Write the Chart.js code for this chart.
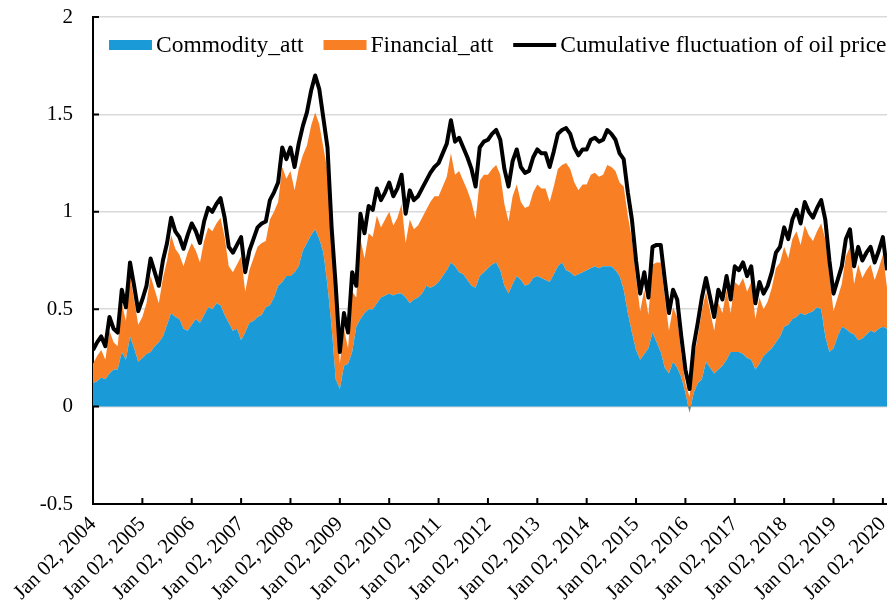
<!DOCTYPE html>
<html>
<head>
<meta charset="utf-8">
<script src="https://cdn.jsdelivr.net/npm/chart.js@4"></script>
<style>
  html, body { margin: 0; padding: 0; background: #fff; }
  #wrap { width: 887px; height: 603px; }
</style>
</head>
<body>
<div id="wrap"><canvas id="myChart"></canvas></div>
<script>
// tick years on the x axis
const yearTicks = [2004, 2005, 2006, 2007, 2008, 2009, 2010, 2011, 2012,
  2013, 2014, 2015, 2016, 2017, 2018, 2019, 2020];
const yTicks = [-0.5, 0, 0.5, 1, 1.5, 2];

// monthly readings, Jan 2004 .. Feb 2020
const commodity = [
  .12, .13, .15, .14, .17, .19, .19, .28, .24, .36, .30, .23,
  .25, .27, .28, .31, .33, .36, .42, .48, .46, .45, .40, .39,
  .42, .45, .43, .47, .51, .50, .53, .52, .47, .43, .39, .40,
  .34, .38, .43, .44, .46, .47, .51, .52, .56, .62, .64, .67,
  .67, .69, .72, .80, .84, .88, .91, .86, .79, .62, .41, .14,
  .09, .21, .22, .28, .41, .45, .48, .50, .50, .53, .56, .57,
  .58, .57, .58, .58, .56, .53, .55, .56, .58, .62, .61, .62,
  .64, .67, .70, .74, .72, .69, .68, .65, .62, .61, .67, .69,
  .71, .73, .74, .70, .62, .58, .63, .67, .65, .62, .63, .66,
  .67, .66, .65, .64, .68, .72, .74, .70, .69, .67, .68, .69,
  .70, .71, .72, .71, .72, .72, .72, .70, .67, .60, .48, .38,
  .29, .24, .27, .30, .38, .33, .28, .20, .17, .23, .20, .15,
  .07, -.03, .07, .12, .14, .23, .20, .17, .19, .21, .24, .28,
  .28, .28, .27, .25, .24, .19, .22, .26, .28, .30, .33, .36,
  .41, .42, .45, .46, .48, .47, .48, .49, .51, .50, .36, .28,
  .30, .36, .41, .40, .38, .37, .34, .35, .37, .39, .38, .40,
  .41, .40
];
const financial = [
  .10, .13, .14, .10, .22, .14, .12, .25, .20, .31, .25, .19,
  .21, .26, .39, .29, .20, .30, .33, .40, .35, .33, .32, .40,
  .42, .35, .31, .38, .41, .40, .41, .45, .40, .29, .30, .33,
  .43, .21, .27, .32, .36, .37, .34, .44, .44, .43, .59, .50,
  .54, .42, .50, .49, .50, .56, .60, .59, .54, .59, .41, .40,
  .13, .19, .08, .31, .15, .41, .28, .39, .37, .45, .36, .39,
  .42, .36, .39, .46, .28, .43, .36, .37, .39, .39, .44, .46,
  .44, .46, .48, .56, .47, .52, .48, .46, .43, .35, .49, .50,
  .48, .49, .50, .49, .42, .37, .45, .47, .40, .40, .40, .44,
  .47, .46, .47, .41, .45, .50, .50, .55, .53, .48, .43, .45,
  .44, .48, .48, .47, .47, .52, .51, .51, .48, .53, .50, .48,
  .37, .25, .33, .17, .35, .41, .46, .36, .22, .28, .26, .12,
  .05, .05, .17, .24, .35, .36, .29, .22, .34, .27, .36, .20,
  .36, .34, .39, .34, .40, .26, .34, .24, .26, .31, .38, .38,
  .41, .34, .41, .44, .35, .46, .40, .36, .39, .44, .50, .39,
  .19, .20, .22, .37, .44, .26, .39, .31, .33, .34, .27, .31,
  .37, .21
];
const cumulative = [
  .29, .33, .36, .31, .46, .40, .38, .60, .51, .74, .62, .49,
  .55, .62, .76, .69, .62, .75, .84, .97, .90, .87, .81, .88,
  .94, .90, .84, .95, 1.02, 1.00, 1.04, 1.07, .97, .82, .79, .83,
  .87, .69, .80, .86, .92, .94, .95, 1.06, 1.10, 1.15, 1.33, 1.27,
  1.33, 1.23, 1.35, 1.44, 1.51, 1.62, 1.70, 1.63, 1.48, 1.33, .92, .62,
  .28, .48, .38, .69, .62, .99, .89, 1.03, 1.01, 1.12, 1.06, 1.10,
  1.15, 1.08, 1.12, 1.19, .99, 1.11, 1.06, 1.08, 1.12, 1.16, 1.20, 1.23,
  1.25, 1.30, 1.35, 1.47, 1.36, 1.38, 1.33, 1.28, 1.22, 1.13, 1.33, 1.36,
  1.37, 1.40, 1.42, 1.37, 1.22, 1.13, 1.26, 1.32, 1.23, 1.20, 1.21, 1.28,
  1.32, 1.30, 1.30, 1.23, 1.31, 1.40, 1.42, 1.43, 1.40, 1.33, 1.29, 1.32,
  1.32, 1.37, 1.38, 1.36, 1.37, 1.42, 1.40, 1.37, 1.30, 1.27, 1.10, .96,
  .75, .58, .69, .56, .82, .83, .83, .65, .48, .60, .55, .36,
  .19, .09, .31, .43, .56, .66, .56, .46, .60, .55, .67, .55,
  .72, .70, .74, .67, .72, .53, .64, .58, .62, .69, .79, .82,
  .92, .86, .96, 1.01, .94, 1.05, 1.00, .97, 1.02, 1.06, .96, .75,
  .58, .65, .72, .86, .91, .72, .82, .75, .79, .82, .74, .80,
  .87, .70
];

// position of each monthly reading in years
const months = cumulative.map((_, i) => 2004 + i / 12);
const pts = arr => arr.map((v, i) => ({ x: months[i], y: v }));

const FONT = "'Liberation Serif', 'Times New Roman', serif";

// legend drawn inside the plot, plus inward tick marks
const extras = {
  id: 'extras',
  afterDraw(chart) {
    const c = chart.ctx;
    const { left, bottom } = chart.chartArea;
    const xs = chart.scales.x, ys = chart.scales.y;
    c.save();
    c.strokeStyle = '#000';
    c.lineWidth = 2;
    c.beginPath();
    yearTicks.forEach(v => {
      const px = xs.getPixelForValue(v);
      c.moveTo(px, bottom);
      c.lineTo(px, bottom - 6);
    });
    yTicks.forEach(v => {
      const py = ys.getPixelForValue(v);
      c.moveTo(left, py);
      c.lineTo(left + 6, py);
    });
    c.stroke();

    // legend
    c.font = '23.5px ' + FONT;
    c.textBaseline = 'middle';
    let x = left + 16;
    const y = 45;
    chart.data.datasets.forEach(ds => {
      if (!ds.fill) {
        c.strokeStyle = '#000';
        c.lineWidth = 4;
        c.beginPath();
        c.moveTo(x, y);
        c.lineTo(x + 43, y);
        c.stroke();
      } else {
        c.fillStyle = ds.backgroundColor;
        c.fillRect(x, y - 5, 43, 10);
      }
      c.fillStyle = '#000';
      c.fillText(ds.label, x + 47, y + 1);
      x += 47 + c.measureText(ds.label).width + 20;
    });
    c.restore();
  }
};

new Chart(document.getElementById('myChart'), {
  type: 'line',
  data: {
    datasets: [
      {
        label: 'Commodity_att',
        data: pts(commodity),
        backgroundColor: '#1a9ad6',
        borderWidth: 0,
        pointRadius: 0,
        fill: 'origin',
        stack: 'att',
        order: 1
      },
      {
        label: 'Financial_att',
        data: pts(financial),
        backgroundColor: '#f97f24',
        borderWidth: 0,
        pointRadius: 0,
        fill: '-1',
        stack: 'att',
        order: 2
      },
      {
        label: 'Cumulative fluctuation of oil price',
        data: pts(cumulative),
        borderColor: '#000',
        borderWidth: 4,
        borderJoinStyle: 'round',
        pointRadius: 0,
        fill: false,
        stack: 'cum',
        order: 0
      }
    ]
  },
  options: {
    responsive: true,
    maintainAspectRatio: false,
    animation: false,
    layout: { padding: { top: 17, right: 0, left: 0, bottom: 0 } },
    plugins: {
      legend: { display: false },
      tooltip: { enabled: false }
    },
    scales: {
      x: {
        type: 'linear',
        min: 2004,
        max: 2020 + 1 / 12,
        afterBuildTicks: s => { s.ticks = yearTicks.map(v => ({ value: v })); },
        afterFit: s => { s.height = 99; s.paddingLeft = 0; s.paddingRight = 0; },
        grid: { display: false, drawTicks: false },
        border: { color: '#000', width: 2 },
        ticks: {
          autoSkip: false,
          maxRotation: 45,
          minRotation: 45,
          padding: 8,
          color: '#000',
          font: { size: 21, family: FONT },
          callback: v => 'Jan 02, ' + v
        }
      },
      y: {
        stacked: true,
        min: -0.5,
        max: 2,
        afterBuildTicks: s => { s.ticks = yTicks.map(v => ({ value: v })); },
        afterFit: s => { s.width = 93; s.paddingTop = 0; s.paddingBottom = 0; },
        grid: { color: '#d9d9d9', lineWidth: 1.5, drawTicks: false },
        border: { color: '#000', width: 2 },
        ticks: {
          padding: 20,
          color: '#000',
          font: { size: 21, family: FONT },
          callback: v => String(v)
        }
      }
    }
  },
  plugins: [extras]
});
</script>
</body>
</html>
